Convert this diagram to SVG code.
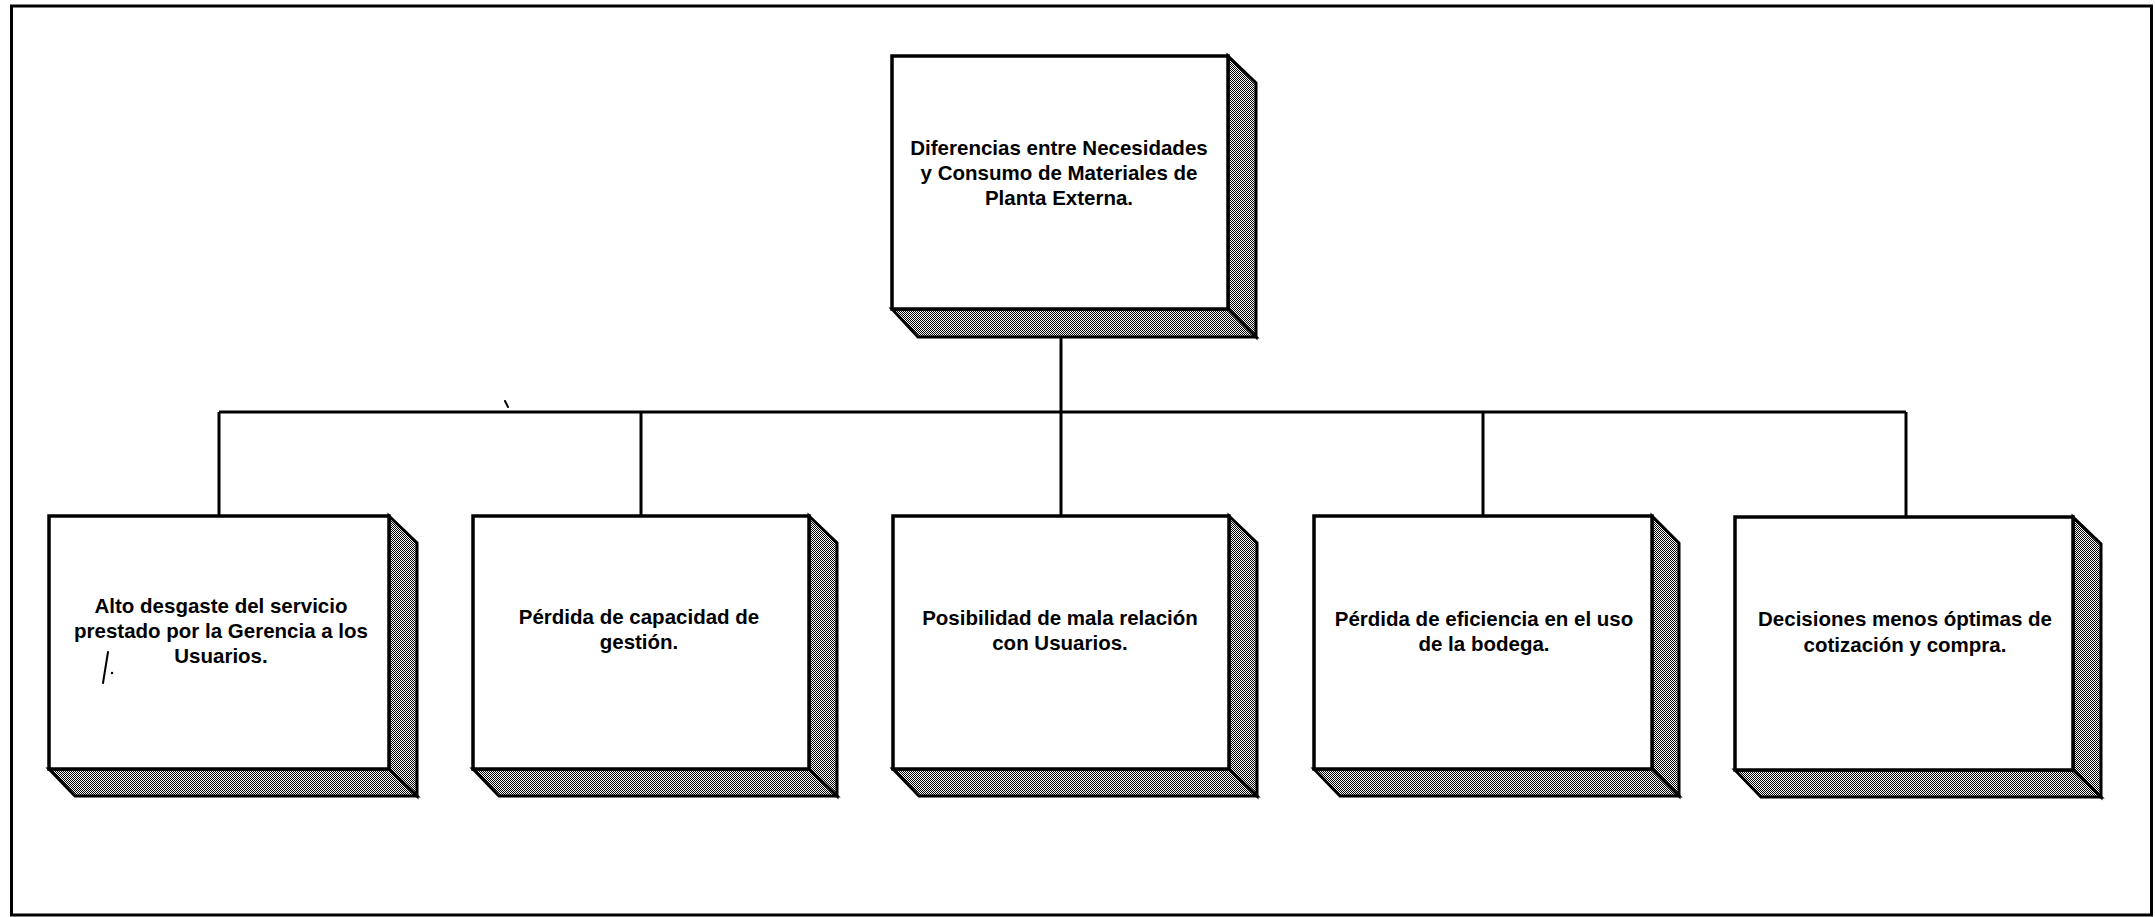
<svg xmlns="http://www.w3.org/2000/svg" width="2155" height="917" viewBox="0 0 2155 917">
  <style>
    .frame { fill: none; stroke: #000; stroke-width: 3; }
    .face { fill: #fff; stroke: #000; stroke-width: 3.5; }
    .side { fill: url(#dither); stroke: #000; stroke-width: 3; stroke-linejoin: miter; }
    .link { fill: none; stroke: #000; stroke-width: 3; }
    .mark { fill: none; stroke: #000; stroke-width: 2; stroke-linecap: round; }
    .label { font-family: "Liberation Sans", Arial, Helvetica, sans-serif; font-weight: bold; font-size: 20.5px; fill: #000; text-anchor: middle; }
  </style>
  <defs>
    <!-- fine halftone used for the box depth faces -->
    <pattern id="dither" width="2" height="2" patternUnits="userSpaceOnUse">
      <rect width="2" height="2" fill="#fff"/>
      <rect x="0" y="0" width="1" height="1" fill="#000"/>
      <rect x="1" y="1" width="1" height="1" fill="#000"/>
    </pattern>
  </defs>

  <rect class="frame" x="11.5" y="6" width="2140" height="909"/>

  <!-- connectors -->
  <g id="connectors">
    <line class="link" x1="1061" y1="322" x2="1061" y2="412"/>
    <line class="link" x1="219" y1="412" x2="1906" y2="412"/>
    <line class="link" x1="219" y1="412" x2="219" y2="516"/>
    <line class="link" x1="641" y1="412" x2="641" y2="516"/>
    <line class="link" x1="1061" y1="412" x2="1061" y2="516"/>
    <line class="link" x1="1483" y1="412" x2="1483" y2="516"/>
    <line class="link" x1="1906" y1="412" x2="1906" y2="516"/>
  </g>

  <!-- root -->
  <g id="root">
    <polygon class="side" points="1228,56 1256,83 1256,337 1228,309"/>
    <polygon class="side" points="892,309 1228,309 1256,337 918,337"/>
    <rect class="face" x="892" y="56" width="336" height="253"/>
    <text class="label" x="1059" y="155">Diferencias entre Necesidades</text>
    <text class="label" x="1059" y="180">y Consumo de Materiales de</text>
    <text class="label" x="1059" y="205">Planta Externa.</text>
  </g>

  <g id="effect1">
    <polygon class="side" points="389,516 417,543 417,796 389,769"/>
    <polygon class="side" points="49,769 389,769 417,796 75,796"/>
    <rect class="face" x="49" y="516" width="340" height="253"/>
    <text class="label" x="221" y="613">Alto desgaste del servicio</text>
    <text class="label" x="221" y="638">prestado por la Gerencia a los</text>
    <text class="label" x="221" y="663">Usuarios.</text>
    <path class="mark" d="M108,652 L103,683"/>
    <circle cx="112" cy="673" r="1.2" fill="#000"/>
  </g>

  <g id="effect2">
    <polygon class="side" points="809,516 837,543 837,796 809,769"/>
    <polygon class="side" points="473,769 809,769 837,796 499,796"/>
    <rect class="face" x="473" y="516" width="336" height="253"/>
    <text class="label" x="639" y="624">Pérdida de capacidad de</text>
    <text class="label" x="639" y="649">gestión.</text>
  </g>

  <g id="effect3">
    <polygon class="side" points="1229,516 1257,543 1257,796 1229,769"/>
    <polygon class="side" points="893,769 1229,769 1257,796 919,796"/>
    <rect class="face" x="893" y="516" width="336" height="253"/>
    <text class="label" x="1060" y="625">Posibilidad de mala relación</text>
    <text class="label" x="1060" y="650">con Usuarios.</text>
  </g>

  <g id="effect4">
    <polygon class="side" points="1652,516 1679,543 1679,796 1652,769"/>
    <polygon class="side" points="1314,769 1652,769 1679,796 1340,796"/>
    <rect class="face" x="1314" y="516" width="338" height="253"/>
    <text class="label" x="1484" y="626">Pérdida de eficiencia en el uso</text>
    <text class="label" x="1484" y="651">de la bodega.</text>
  </g>

  <g id="effect5">
    <polygon class="side" points="2073,517 2101,544 2101,797 2073,770"/>
    <polygon class="side" points="1735,770 2073,770 2101,797 1761,797"/>
    <rect class="face" x="1735" y="517" width="338" height="253"/>
    <text class="label" x="1905" y="626">Decisiones menos óptimas de</text>
    <text class="label" x="1905" y="652">cotización y compra.</text>
  </g>

  <!-- small stray stroke above the bus line -->
  <path class="mark" d="M505,401 L508,407"/>
</svg>
